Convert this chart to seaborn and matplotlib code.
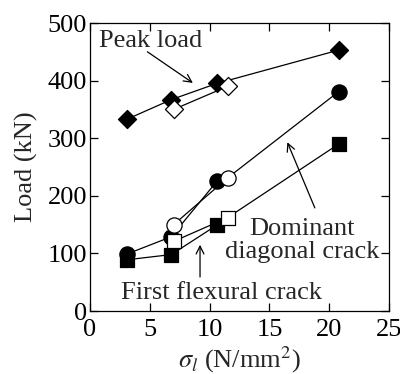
import matplotlib
matplotlib.use("Agg")
import matplotlib.pyplot as plt
import seaborn as sns

# Principal stress sigma_l (N/mm^2) for each specimen
sigma_filled = [3.1, 6.8, 10.6, 20.8]
sigma_open = [7.0, 11.5]

# Loads (kN)
peak_filled = [333, 367, 395, 453]
peak_open = [350, 390]
diag_filled = [99, 129, 225, 381]
diag_open = [150, 231]
flex_filled = [89, 98, 149, 290]
flex_open = [121, 162]

sns.set_style("ticks")
plt.rcParams["font.family"] = ["Liberation Serif", "DejaVu Serif"]
plt.rcParams["mathtext.fontset"] = "stix"

FS = 19
fig = plt.figure(figsize=(4.0, 3.74), dpi=100)
ax = fig.add_axes([0.225, 0.1684, 0.7475, 0.7701])

lw = 0.9
def line(xs, ys):
    sns.lineplot(x=xs, y=ys, ax=ax, color="black", lw=lw, sort=False,
                 estimator=None, zorder=2)

# Peak load: filled series runs through all four, open pair joined
line(sigma_filled, peak_filled)
line(sigma_open, peak_open)
# Crack loads: filled series for the first three, open pair continues to the last point
for filled, opened in [(diag_filled, diag_open), (flex_filled, flex_open)]:
    line(sigma_filled[:3], filled[:3])
    line(sigma_open + sigma_filled[3:], opened + filled[3:])

def marks(xs, ys, marker, s, face):
    sns.scatterplot(x=xs, y=ys, ax=ax, marker=marker, s=s, color=face,
                    edgecolor="black", linewidth=0.9, zorder=3)

marks(sigma_filled, peak_filled, "D", 85, "black")
marks(sigma_open, peak_open, "D", 85, "white")
marks(sigma_filled, diag_filled, "o", 120, "black")
marks(sigma_open, diag_open, "o", 120, "white")
marks(sigma_filled, flex_filled, "s", 100, "black")
marks(sigma_open, flex_open, "s", 100, "white")

ax.set_xlim(0, 25)
ax.set_ylim(0, 500)
ax.set_xticks([0, 5, 10, 15, 20, 25])
ax.set_yticks([0, 100, 200, 300, 400, 500])
ax.tick_params(direction="in", length=6, width=0.9, top=True, right=True,
               labelsize=FS, colors="black")
ax.tick_params(axis="x", pad=6)
ax.tick_params(axis="y", pad=2)
for sp in ax.spines.values():
    sp.set_linewidth(0.9)
    sp.set_color("black")

ax.set_xlabel(r"$\sigma_l$ (N/mm$^2$)", fontsize=FS, labelpad=2.5)
ax.set_ylabel("Load (kN)", fontsize=FS, labelpad=7)

arrow = dict(arrowstyle="->", color="black", lw=0.9, mutation_scale=14,
             shrinkA=0, shrinkB=0)
ax.text(5.1, 468, "Peak load", fontsize=FS, ha="center", va="center")
ax.annotate("", xy=(8.6, 396), xytext=(4.8, 450), arrowprops=arrow)

ax.text(17.7, 123, "Dominant\ndiagonal crack", fontsize=FS, ha="center",
        va="center", linespacing=1.05)
ax.annotate("", xy=(16.5, 293), xytext=(18.8, 179), arrowprops=arrow)

ax.text(11.0, 31, "First flexural crack", fontsize=FS, ha="center", va="center")
ax.annotate("", xy=(9.2, 115), xytext=(9.2, 59), arrowprops=arrow)

fig.savefig("out.png", dpi=100)
